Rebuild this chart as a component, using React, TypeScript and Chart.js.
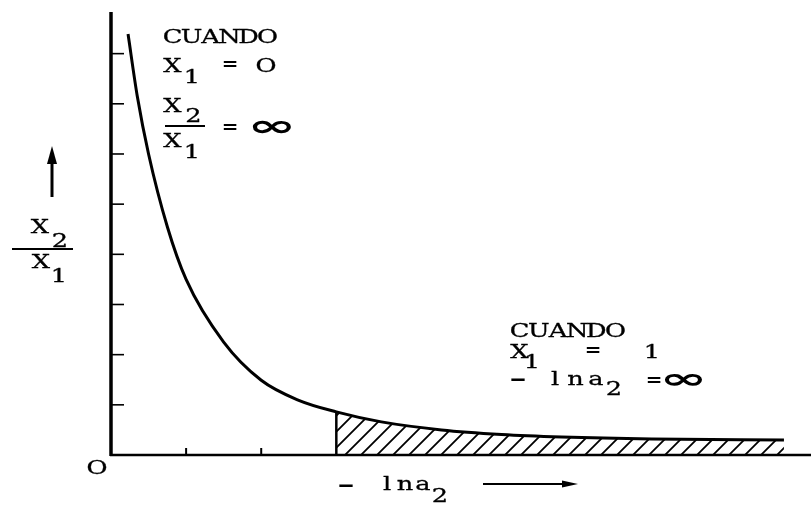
import React, { useEffect, useRef } from "react";
import { Chart, registerables } from "chart.js";

Chart.register(...registerables);

// Curve: x2/x1 versus -ln a2
const curveX = [0.227, 0.35, 0.5, 0.75, 1.0, 1.5, 2.0, 2.5, 3.0, 3.6, 4.4, 5.2, 6.0, 7.2, 8.96];
const curveY = [8.39, 7.15, 6.0, 4.55, 3.5, 2.25, 1.49, 1.09, 0.86, 0.66, 0.5, 0.41, 0.36, 0.32, 0.3];
const hatchStart = 3.0;
const yTicks = [1, 2, 3, 4, 5, 6, 7, 8];
const xTicks = [1, 2];
const X_MAX = 9.32;
const Y_MAX = 8.83;

const FONT = '"DejaVu Serif", "Liberation Serif", serif';

function makePattern(): CanvasPattern | string {
  const c = document.createElement("canvas");
  c.width = 16;
  c.height = 16;
  const g = c.getContext("2d");
  if (!g) return "rgba(0,0,0,0.3)";
  g.strokeStyle = "#000";
  g.lineWidth = 1.8;
  g.beginPath();
  g.moveTo(-2, 18);
  g.lineTo(18, -2);
  g.moveTo(-4, 4);
  g.lineTo(4, -4);
  g.moveTo(12, 20);
  g.lineTo(20, 12);
  g.stroke();
  const p = g.createPattern(c, "repeat");
  return p || "rgba(0,0,0,0.3)";
}

// Typewriter-like text: each character centred in a fixed cell
function mono(ctx: CanvasRenderingContext2D, s: string, cx: number, y: number, cell = 19, size = 19, sx = 1.35, family = FONT, bold = false) {
  ctx.save();
  ctx.font = `${bold ? "bold " : ""}${size}px ${family}`;
  ctx.fillStyle = "#000";
  ctx.strokeStyle = "#000";
  ctx.lineWidth = 0.3;
  ctx.textBaseline = "alphabetic";
  ctx.textAlign = "center";
  for (let i = 0; i < s.length; i++) {
    ctx.save();
    ctx.translate(cx + i * cell, y);
    ctx.scale(sx, 1);
    ctx.fillText(s[i], 0, 0);
    if (!bold) ctx.strokeText(s[i], 0, 0);
    ctx.restore();
  }
  ctx.restore();
}

function equals(ctx: CanvasRenderingContext2D, cx: number, cy: number) {
  mono(ctx, "=", cx, cy + 6, 19, 18, 1.35, '"DejaVu Sans Mono", monospace', true);
}

function dash(ctx: CanvasRenderingContext2D, cx: number, cy: number) {
  mono(ctx, "-", cx, cy + 5, 19, 18, 2.4, '"DejaVu Sans Mono", monospace', true);
}

function infinity(ctx: CanvasRenderingContext2D, cx: number, cy: number, w: number, h: number) {
  ctx.save();
  ctx.font = `bold 30px "DejaVu Sans", sans-serif`;
  ctx.fillStyle = "#000";
  ctx.textBaseline = "alphabetic";
  ctx.textAlign = "center";
  const m = ctx.measureText("∞");
  const iw = m.actualBoundingBoxLeft + m.actualBoundingBoxRight;
  const ih = m.actualBoundingBoxAscent + m.actualBoundingBoxDescent;
  const midOff = (m.actualBoundingBoxAscent - m.actualBoundingBoxDescent) / 2;
  const offX = (m.actualBoundingBoxRight - m.actualBoundingBoxLeft) / 2;
  ctx.translate(cx, cy);
  ctx.scale(w / iw, h / ih);
  ctx.fillText("∞", -offX, midOff);
  ctx.restore();
}

const annotations = {
  id: "annotations",
  afterDatasetsDraw(chart: any) {
    const ctx: CanvasRenderingContext2D = chart.ctx;
    const xs = chart.scales.x;
    const ys = chart.scales.y;
    const x0 = xs.getPixelForValue(0);
    const y0 = ys.getPixelForValue(0);
    const yTop = ys.getPixelForValue(Y_MAX);
    const xEnd = xs.getPixelForValue(X_MAX);
    ctx.save();
    ctx.strokeStyle = "#000";
    ctx.lineCap = "butt";
    // axes
    ctx.lineWidth = 3.5;
    ctx.beginPath();
    ctx.moveTo(x0, yTop);
    ctx.lineTo(x0, y0 + 1);
    ctx.stroke();
    ctx.lineWidth = 2.5;
    ctx.beginPath();
    ctx.moveTo(x0 - 1, y0);
    ctx.lineTo(xEnd, y0);
    ctx.stroke();
    // y ticks (inside)
    ctx.lineWidth = 1.6;
    for (const t of yTicks) {
      const py = ys.getPixelForValue(t);
      ctx.beginPath();
      ctx.moveTo(x0, py);
      ctx.lineTo(x0 + 13, py);
      ctx.stroke();
    }
    // x ticks (upward)
    ctx.lineWidth = 2;
    for (const t of xTicks) {
      const px = xs.getPixelForValue(t);
      ctx.beginPath();
      ctx.moveTo(px, y0);
      ctx.lineTo(px, y0 - 7);
      ctx.stroke();
    }
    ctx.restore();

    // origin
    mono(ctx, "O", 97, 474);

    // top-left text block
    mono(ctx, "CUANDO", 172.5, 43);
    mono(ctx, "X", 172.5, 72);
    mono(ctx, "1", 192, 83);
    equals(ctx, 230, 64);
    mono(ctx, "O", 266, 72);
    mono(ctx, "X", 172.5, 112);
    mono(ctx, "2", 193.5, 122);
    ctx.save();
    ctx.fillStyle = "#000";
    ctx.fillRect(165, 125, 40, 2);
    ctx.restore();
    mono(ctx, "X", 172.5, 147);
    mono(ctx, "1", 192, 158);
    equals(ctx, 230, 127);
    infinity(ctx, 272, 127, 41, 14);

    // bottom-right text block
    mono(ctx, "CUANDO", 519.5, 337, 19.2);
    mono(ctx, "X", 519.5, 358);
    mono(ctx, "1", 532, 368);
    equals(ctx, 593, 350);
    mono(ctx, "1", 652, 358);
    dash(ctx, 518, 380);
    mono(ctx, "lna", 555, 385, 20.5);
    mono(ctx, "2", 614, 395);
    equals(ctx, 654, 380);
    infinity(ctx, 683, 380, 40, 13);

    // y axis label
    mono(ctx, "X", 40, 233);
    mono(ctx, "2", 60, 247);
    ctx.save();
    ctx.fillStyle = "#000";
    ctx.fillRect(12, 248, 61, 2);
    ctx.restore();
    mono(ctx, "X", 41, 268);
    mono(ctx, "1", 59, 282);
    // y arrow
    ctx.save();
    ctx.strokeStyle = "#000";
    ctx.fillStyle = "#000";
    ctx.lineWidth = 3;
    ctx.beginPath();
    ctx.moveTo(52, 160);
    ctx.lineTo(52, 197);
    ctx.stroke();
    ctx.beginPath();
    ctx.moveTo(52, 146);
    ctx.lineTo(57, 164);
    ctx.lineTo(47, 164);
    ctx.closePath();
    ctx.fill();
    ctx.restore();

    // x axis label
    dash(ctx, 346, 486);
    mono(ctx, "lna", 387, 490, 18);
    mono(ctx, "2", 440, 502);
    ctx.save();
    ctx.strokeStyle = "#000";
    ctx.fillStyle = "#000";
    ctx.lineWidth = 2;
    ctx.beginPath();
    ctx.moveTo(483, 484);
    ctx.lineTo(568, 484);
    ctx.stroke();
    ctx.beginPath();
    ctx.moveTo(578, 484);
    ctx.lineTo(562, 480.5);
    ctx.lineTo(562, 487.5);
    ctx.closePath();
    ctx.fill();
    ctx.restore();
  },
};

export default function App() {
  const ref = useRef<HTMLCanvasElement | null>(null);
  useEffect(() => {
    if (!ref.current) return;
    const curve = curveX.map((x, i) => ({ x, y: curveY[i] }));
    const idx = curveX.findIndex((x) => x >= hatchStart);
    const hatch = [{ x: hatchStart, y: 0 }, ...curve.slice(idx)];
    const chart = new Chart(ref.current, {
      type: "line",
      data: {
        datasets: [
          {
            data: curve,
            borderColor: "#000",
            borderWidth: 3,
            pointRadius: 0,
            fill: false,
            cubicInterpolationMode: "monotone",
            order: 0,
          },
          {
            data: hatch,
            borderColor: "#000",
            borderWidth: 2.5,
            pointRadius: 0,
            tension: 0,
            fill: "origin",
            backgroundColor: makePattern() as any,
            segment: {
              borderColor: (c: any) => (c.p0DataIndex === 0 ? "#000" : "rgba(0,0,0,0)"),
            },
            order: 1,
          },
        ],
      },
      options: {
        animation: false,
        responsive: true,
        maintainAspectRatio: false,
        layout: { padding: { left: 111, top: 12, right: 0, bottom: 51 } },
        plugins: { legend: { display: false }, tooltip: { enabled: false } },
        scales: {
          x: { type: "linear", min: 0, max: X_MAX, display: false },
          y: { type: "linear", min: 0, max: Y_MAX, display: false },
        },
      },
      plugins: [annotations],
    });
    return () => chart.destroy();
  }, []);
  return (
    <div style={{ position: "fixed", left: 0, top: 0, width: 811, height: 506, background: "#fff" }}>
      <canvas ref={ref} />
    </div>
  );
}
